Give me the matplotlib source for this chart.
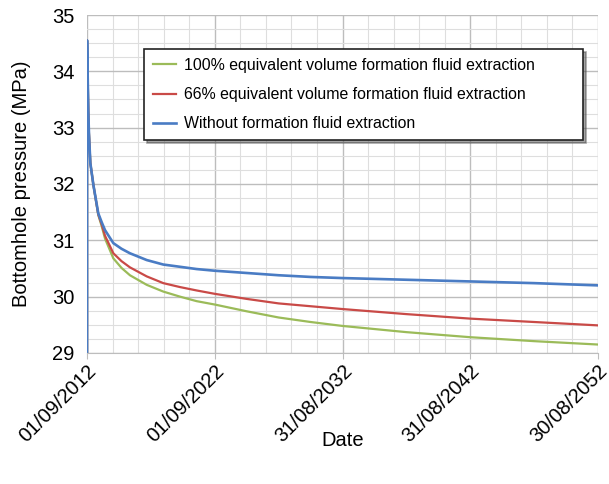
import matplotlib.pyplot as plt
from matplotlib.ticker import MultipleLocator

plt.rcParams['font.family'] = ['Liberation Sans', 'DejaVu Sans']

# Years since 01/09/2012
t_years = [0.0, 0.001, 0.1, 0.15, 0.26, 0.5, 0.88, 1.15, 1.41, 2.06, 2.7, 3.36,
           4.67, 5.97, 7.28, 8.58, 10, 12.5, 15, 17.5, 20, 25, 30, 35, 40]
# Bottomhole pressure (MPa)
p_full = [0.0, 34.55, 33.3, 32.9, 32.37, 31.98, 31.45, 31.25, 31.03, 30.68, 30.51,
          30.38, 30.21, 30.09, 30.0, 29.92, 29.86, 29.74, 29.63, 29.55, 29.48,
          29.37, 29.28, 29.21, 29.15]
p_66 = [0.0, 34.55, 33.3, 32.9, 32.37, 31.98, 31.46, 31.28, 31.08, 30.77, 30.63,
        30.52, 30.36, 30.24, 30.17, 30.11, 30.05, 29.96, 29.88, 29.83, 29.78,
        29.69, 29.61, 29.55, 29.49]
p_none = [0.0, 34.55, 33.3, 32.9, 32.37, 31.98, 31.48, 31.32, 31.18, 30.95, 30.85,
          30.77, 30.65, 30.57, 30.53, 30.49, 30.46, 30.42, 30.38, 30.35, 30.33,
          30.30, 30.27, 30.24, 30.20]

tick_years = [0, 10, 20, 30, 40]
tick_labels = ['01/09/2012', '01/09/2022', '31/08/2032', '31/08/2042', '30/08/2052']

fig = plt.figure(figsize=(6.09, 4.84), dpi=100)
ax = fig.add_axes([0.1429, 0.2707, 0.839, 0.6983])

ax.plot(t_years, p_full, color='#9BBB59', lw=1.6,
        label='100% equivalent volume formation fluid extraction')
ax.plot(t_years, p_66, color='#C94A47', lw=1.6,
        label='66% equivalent volume formation fluid extraction')
ax.plot(t_years, p_none, color='#4A7CC4', lw=1.9,
        label='Without formation fluid extraction')

ax.set_xlim(0, 40)
ax.set_ylim(29, 35)
ax.set_xticks(tick_years)
ax.set_xticklabels(tick_labels, rotation=45, ha='right', rotation_mode='anchor')
ax.xaxis.set_minor_locator(MultipleLocator(2))
ax.yaxis.set_major_locator(MultipleLocator(1))
ax.yaxis.set_minor_locator(MultipleLocator(0.25))

ax.grid(which='major', color='#BDBDBD', lw=1.0)
ax.grid(which='minor', color='#DEDEDE', lw=0.8)
ax.set_axisbelow(True)
for side in ['top', 'right', 'left']:
    ax.spines[side].set_visible(False)
ax.spines['bottom'].set_color('#BDBDBD')
ax.tick_params(which='major', labelsize=14.5, color='#BDBDBD', length=4, pad=2)
ax.tick_params(which='minor', length=0)
ax.tick_params(axis='y', length=0, pad=9)

ax.set_xlabel('Date', fontsize=14.5)
ax.xaxis.set_label_coords(0.5, -0.232)
ax.set_ylabel('Bottomhole pressure (MPa)', fontsize=14.5, labelpad=15)

leg = ax.legend(loc='upper left', bbox_to_anchor=(0.1115, 0.6, 0.859, 0.299),
                mode='expand', borderaxespad=0,
                fontsize=11.4, frameon=True, fancybox=False, shadow=True,
                handlelength=1.5, labelspacing=0.9, borderpad=0.55,
                handletextpad=0.5)
leg.get_frame().set_edgecolor('#222222')
leg.get_frame().set_linewidth(1.2)

plt.savefig('out.png', dpi=100)
